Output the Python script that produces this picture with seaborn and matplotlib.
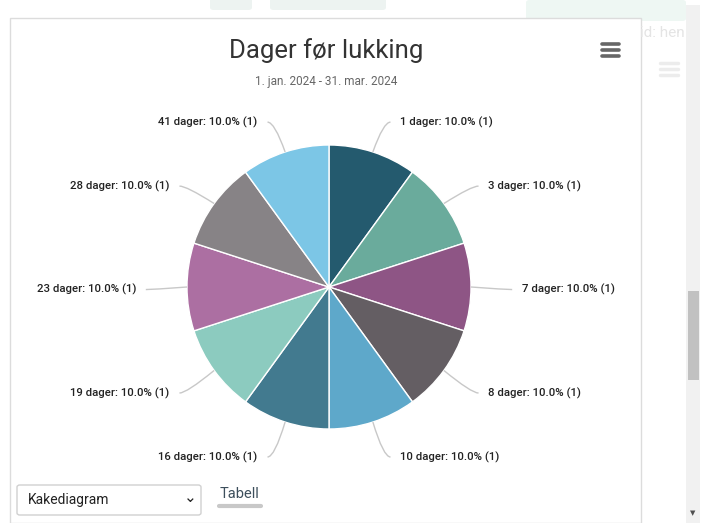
import numpy as np
import seaborn as sns
import matplotlib.pyplot as plt
from matplotlib.patches import Rectangle, FancyBboxPatch, PathPatch
from matplotlib.path import Path

sns.set_theme(style="white")
plt.rcParams['font.family'] = ['Roboto', 'DejaVu Sans']

# data
categories = ["1 dager", "3 dager", "7 dager", "8 dager", "10 dager",
              "16 dager", "19 dager", "23 dager", "28 dager", "41 dager"]
counts = [1, 1, 1, 1, 1, 1, 1, 1, 1, 1]
colors = ["#245a6e", "#6aab9c", "#8e5585", "#645e63", "#5ea8ca",
          "#427a8f", "#8ccbbf", "#ac6fa2", "#878386", "#7cc6e6"]
title = "Dager før lukking"
subtitle = "1. jan. 2024 - 31. mar. 2024"

W, H = 709, 523
fig = plt.figure(figsize=(W / 100, H / 100), dpi=100)
fig.patch.set_facecolor("white")

# faint page elements behind the card
def fbox(x, y, w, h, fc, z=-3):
    fig.patches.append(FancyBboxPatch((x / W, 1 - (y + h) / H), w / W, h / H,
                                      transform=fig.transFigure,
                                      boxstyle="round,pad=0,rounding_size=0.005",
                                      facecolor=fc, edgecolor="none", zorder=z))

fbox(210, -4, 42, 14, "#edf3f1")
fbox(270, -4, 116, 14, "#edf3f1")
fbox(526, 0, 160, 21, "#eef7f3")
fig.text(640 / W, 1 - 33 / H, "id: hen", fontsize=11, color="#e4e4e4", ha="left", va="center")
for yy in (63, 69, 75):
    fig.add_artist(plt.Line2D([660 / W, 678 / W], [1 - yy / H] * 2, color="#ececec", lw=2.5,
                              zorder=-3))

# card and scrollbar
fig.patches.append(Rectangle((10 / W, 0), 631 / W, 1 - 18 / H, transform=fig.transFigure,
                             facecolor="white", edgecolor="#dcdcdc", lw=1.0, zorder=-2))
fig.patches.append(Rectangle((686 / W, 0), 14 / W, 1 - 5 / H, transform=fig.transFigure,
                             facecolor="#f1f1f1", edgecolor="none", zorder=-2))
fig.patches.append(Rectangle((688 / W, 1 - 380 / H), 11 / W, 89 / H, transform=fig.transFigure,
                             facecolor="#c1c1c1", edgecolor="none", zorder=-1))
fig.text(693 / W, 1 - 513 / H, "▼", fontsize=5, color="#505050", ha="center", va="center",
         family="DejaVu Sans")

# pie axes: 1 data unit = 142 px, centre at (329, 287)
cx, cy, r = 329, 287, 142
ax = fig.add_axes([0, 0, 1, 1])
ax.patch.set_visible(False)
wedges, _ = ax.pie(counts, colors=colors, startangle=90, counterclock=False,
                   radius=1.0, wedgeprops=dict(edgecolor="white", linewidth=1.0))
ax.set_xlim(-cx / r, (W - cx) / r)
ax.set_ylim(-(H - cy) / r, cy / r)
ax.set_aspect("equal")
ax.axis("off")

total = sum(counts)
R_lab, pad, gap, drop = 1.24, 0.12, 0.07, 0.018
for w, cat, n in zip(wedges, categories, counts):
    th = np.deg2rad((w.theta1 + w.theta2) / 2)
    c, s = np.cos(th), np.sin(th)
    side = 1 if c > -1e-6 else -1
    lx = R_lab * c + side * pad
    ly = R_lab * s - drop
    start = (c, s)
    ctrl = (R_lab * c, R_lab * s - drop)
    end = (lx - side * gap, ly)
    path = Path([start, ctrl, end], [Path.MOVETO, Path.CURVE3, Path.CURVE3])
    ax.add_patch(PathPatch(path, facecolor="none", edgecolor="#c8c8c8", lw=1.0))
    ax.text(lx, ly, f"{cat}: {100 * n / total:.1f}% ({n})",
            ha="left" if side > 0 else "right", va="center",
            fontsize=8.2, fontweight="medium", color="#222222")

# titles
fig.text(326 / W, 1 - 51 / H, title, ha="center", va="center", fontsize=18.5, color="#333333")
fig.text(326 / W, 1 - 82 / H, subtitle, ha="center", va="center", fontsize=8.5, color="#666666")

# hamburger menu
for yy in (44, 50, 56):
    fig.add_artist(plt.Line2D([602 / W, 619 / W], [1 - yy / H] * 2, color="#666666",
                              lw=2.6, solid_capstyle="round"))

# bottom controls
fig.patches.append(FancyBboxPatch((17 / W, 1 - 515 / H), 184 / W, 30 / H, transform=fig.transFigure,
                                  boxstyle="round,pad=0,rounding_size=0.004", facecolor="white",
                                  edgecolor="#d0d0d0", lw=1.0))
fig.text(28 / W, 1 - 500 / H, "Kakediagram", ha="left", va="center", fontsize=10, color="#222222")
fig.text(190 / W, 1 - 497 / H, "⌄", ha="center", va="center", fontsize=11, color="#222222",
         family="DejaVu Sans")
fig.text(239 / W, 1 - 494 / H, "Tabell", ha="center", va="center", fontsize=10.5, color="#3d4f5c")
fig.add_artist(plt.Line2D([219 / W, 261 / W], [1 - 506 / H] * 2, color="#c8c8c8", lw=3))

plt.savefig("out.png", dpi=100)
